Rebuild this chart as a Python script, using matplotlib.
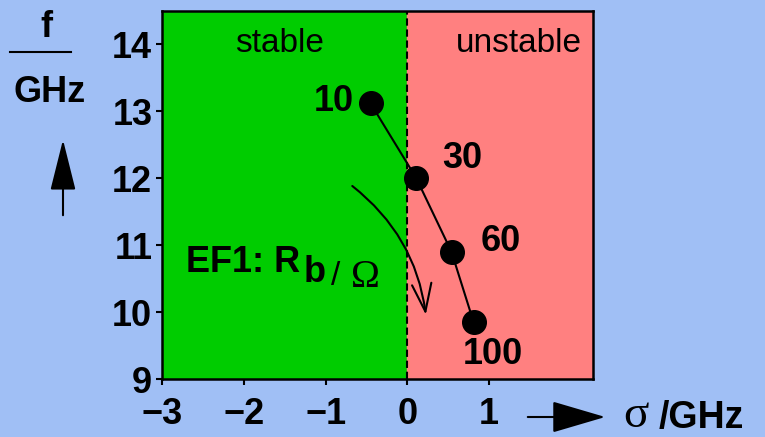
import matplotlib
matplotlib.use("Agg")
import matplotlib.pyplot as plt
from matplotlib.patches import FancyArrowPatch
from matplotlib.lines import Line2D

# Data
sigma = [-0.45, 0.11, 0.54, 0.81]
freq = [13.12, 12.00, 10.90, 9.85]
rb_labels = ["10", "30", "60", "100"]
label_x = [-0.90, 0.67, 1.14, 1.05]
label_y = [13.14, 12.29, 11.05, 9.36]
xticks = [-3, -2, -1, 0, 1]
xticklabels = ['\u22123', '\u22122', '\u22121', '0', '1']
yticks = [9, 10, 11, 12, 13, 14]

W, H = 765, 437
plt.rcParams['font.family'] = ['Liberation Sans', 'DejaVu Sans']
bg = '#a0bff5'
fig = plt.figure(figsize=(W / 100, H / 100), dpi=100, facecolor=bg)
ax = fig.add_axes([162 / W, 1 - 379 / H, (593 - 162) / W, (379 - 11) / H])
ax.set_xlim(-3, 2.27)
ax.set_ylim(9, 14.5)
ax.axvspan(-3, 0, color='#00cc00', zorder=0)
ax.axvspan(0, 2.27, color='#ff8080', zorder=0)
ax.axvline(0, color='black', ls=(0, (3.5, 1.8)), lw=1.5, zorder=1)

ax.plot(sigma, freq, color='black', lw=1.5, marker='o', ms=17, zorder=3)

for x, y, lab in zip(label_x, label_y, rb_labels):
    ax.text(x, y, lab, fontsize=26, fontweight='bold', ha='center', va='center')


def ftext(px, py, s, **kw):
    return fig.text(px / W, 1 - py / H, s, **kw)


ftext(279.5, 51.7, 'stable', fontsize=24, ha='center', va='baseline')
ftext(518.7, 51.7, 'unstable', fontsize=24, ha='center', va='baseline')

# EF1: Rb/Ω
ftext(186, 272, 'EF1: R', fontsize=26, fontweight='bold', ha='left', va='baseline')
ftext(304, 282, 'b', fontsize=26, fontweight='bold', ha='left', va='baseline')
ftext(331, 285, '/', fontsize=24, ha='left', va='baseline')
ftext(351, 287, '\u03a9', fontsize=28, family='Liberation Serif', ha='left', va='baseline')

arr = FancyArrowPatch((-0.70, 11.91), (0.23, 9.92), connectionstyle='arc3,rad=-0.21',
                      arrowstyle='->,head_length=20,head_width=7', lw=1.5, color='black',
                      zorder=2)
ax.add_patch(arr)

ax.set_xticks(xticks)
ax.set_xticklabels(xticklabels)
ax.set_yticks(yticks)
ax.tick_params(labelsize=26, width=1.5, length=4, direction='out')
ax.tick_params(axis='x', pad=9)
ax.tick_params(axis='y', pad=3)
for lab in ax.get_xticklabels() + ax.get_yticklabels():
    lab.set_fontweight('bold')
for s in ax.spines.values():
    s.set_linewidth(1.8)

# y-axis label
ftext(46, 37, 'f', fontsize=26, fontweight='bold', ha='center', va='baseline')
fig.add_artist(Line2D([10 / W, 71 / W], [1 - 52 / H, 1 - 52 / H], color='black', lw=1.5))
ftext(50, 102, 'GHz', fontsize=26, fontweight='bold', ha='center', va='baseline')
fig.add_artist(FancyArrowPatch((63 / W, 1 - 218 / H), (63 / W, 1 - 137 / H),
                               transform=fig.transFigure,
                               arrowstyle='-|>,head_length=32,head_width=8', lw=1.5,
                               color='black', mutation_scale=1))
# x-axis label
fig.add_artist(FancyArrowPatch((525 / W, 1 - 417 / H), (608 / W, 1 - 417 / H),
                               transform=fig.transFigure,
                               arrowstyle='-|>,head_length=34,head_width=10', lw=1.5,
                               color='black', mutation_scale=1))
ftext(623, 427, '\u03c3', fontsize=34, family='Liberation Serif', ha='left', va='baseline')
ftext(659, 428, '/GHz', fontsize=27, fontweight='bold', ha='left', va='baseline')

fig.savefig('out.png', dpi=100, facecolor=bg)
